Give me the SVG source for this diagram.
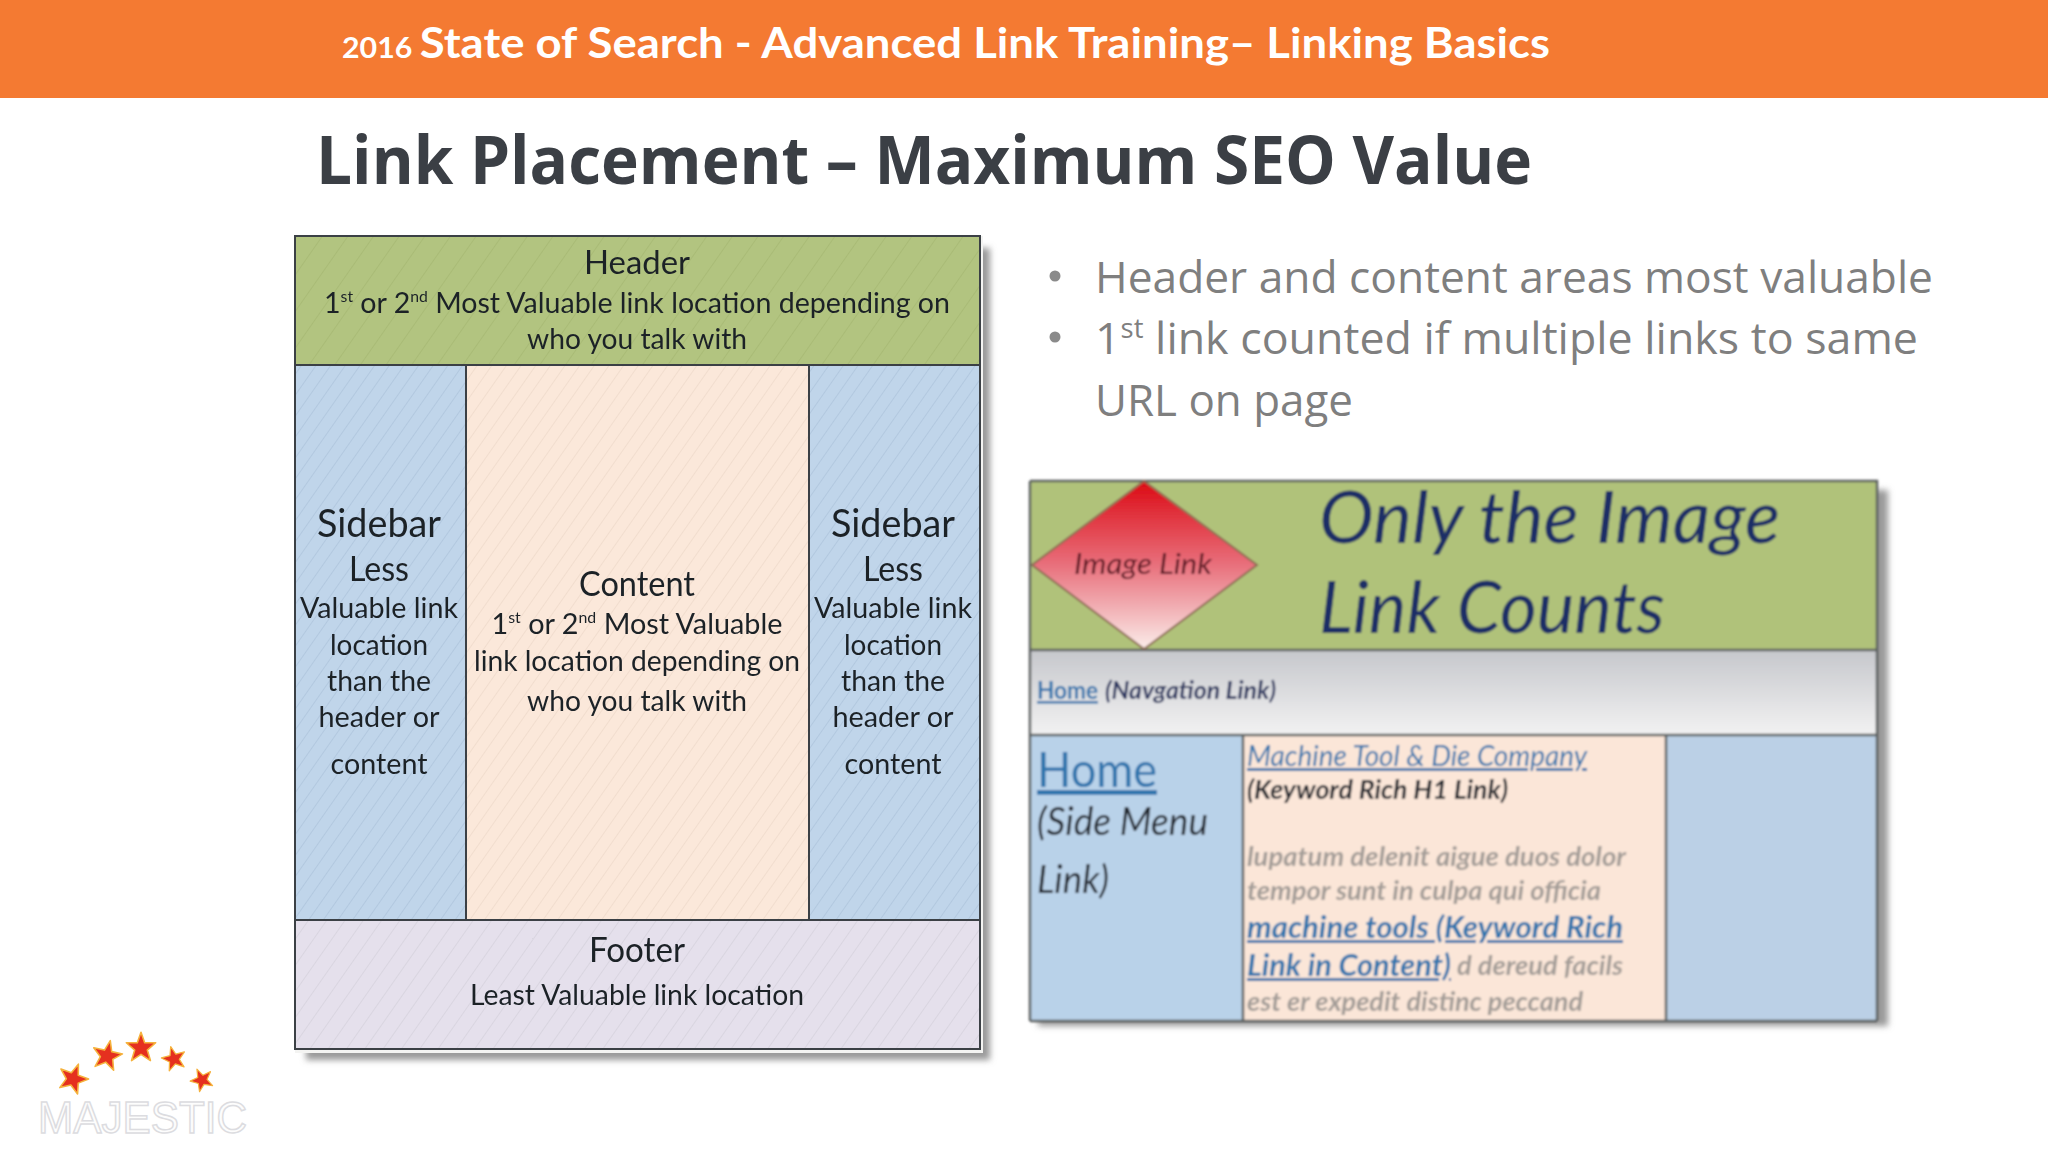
<svg xmlns="http://www.w3.org/2000/svg" width="2048" height="1152" viewBox="0 0 2048 1152">
<defs>
<style>
.ca{font-family:Lato,"Liberation Sans",sans-serif;fill:#1c2228;text-anchor:middle}
.s28{font-size:29px}.s36{font-size:39px}
.edge{stroke:#3a3f44;stroke-width:2;fill:none}
.shot{font-family:Lato,"Liberation Sans",sans-serif;font-style:italic}
.lnk{fill:#2f74ad;text-decoration:underline}
.blk{fill:#23262e}
.gry{fill:#a39c97}
.bul{font-family:"Open Sans","Liberation Sans",sans-serif;font-size:44px;fill:#7f7f7f}
.star{fill:#e5301f;stroke:#f5b23c;stroke-width:1.5;stroke-linejoin:round}
</style>
<pattern id="hG" width="21" height="21" patternUnits="userSpaceOnUse" patternTransform="rotate(35)"><rect width="21" height="21" fill="#B2C480"/><path d="M0 0V21" stroke="#A3B670" stroke-width="1.2"/></pattern>
<pattern id="hB" width="12" height="12" patternUnits="userSpaceOnUse" patternTransform="rotate(35)"><rect width="12" height="12" fill="#C0D5EA"/><path d="M0 0V12" stroke="#A9C0D8" stroke-width="1.2"/></pattern>
<pattern id="hO" width="12" height="12" patternUnits="userSpaceOnUse" patternTransform="rotate(35)"><rect width="12" height="12" fill="#FBE8DA"/><path d="M0 0V12" stroke="#EBD7C6" stroke-width="1.2"/></pattern>
<pattern id="hP" width="15" height="15" patternUnits="userSpaceOnUse" patternTransform="rotate(35)"><rect width="15" height="15" fill="#E5E0EC"/><path d="M0 0V15" stroke="#D2CED8" stroke-width="1.2"/></pattern>
<linearGradient id="gD" x1="0" y1="0" x2="0" y2="1"><stop offset="0" stop-color="#DC0A14"/><stop offset=".5" stop-color="#E8707C"/><stop offset="1" stop-color="#FBEDEA"/></linearGradient>
<linearGradient id="gN" x1="0" y1="0" x2="0" y2="1"><stop offset="0" stop-color="#C6C7CC"/><stop offset="1" stop-color="#F2F2F2"/></linearGradient>
<filter id="sh" x="-5%" y="-5%" width="110%" height="110%"><feGaussianBlur stdDeviation="3"/></filter>
<filter id="soft" x="-2%" y="-2%" width="104%" height="104%"><feGaussianBlur stdDeviation="1"/></filter>
<filter id="soft2" x="-2%" y="-2%" width="104%" height="104%"><feGaussianBlur stdDeviation="0.4"/></filter>
</defs>
<rect width="2048" height="1152" fill="#fff"/>
<g id="banner">
<rect width="2048" height="98" fill="#F47A32"/>
<text x="342" y="58" fill="#fff" font-family="Lato,'Liberation Sans',sans-serif" font-weight="700" font-size="42" textLength="1208" lengthAdjust="spacingAndGlyphs"><tspan font-size="28">2016 </tspan>State of Search - Advanced Link Training– Linking Basics</text>
</g>
<text id="title" x="316" y="184" fill="#3b3f45" font-family="'Open Sans','Liberation Sans',sans-serif" font-weight="700" font-size="66" textLength="1216" lengthAdjust="spacingAndGlyphs">Link Placement – Maximum SEO Value</text>
<g id="layout-shadow"><rect x="306" y="248" width="684" height="812" fill="#9a9a9a" filter="url(#sh)"/><rect x="295" y="236" width="688" height="817" fill="#f4f4f2"/></g>
<g filter="url(#soft2)">
<g id="header"><rect class="edge" x="295" y="236" width="685" height="129" style="fill:url(#hG)"/>
<text class="ca" font-size="33" x="637" y="274" textLength="106" lengthAdjust="spacingAndGlyphs">Header</text>
<text class="ca s28" x="637" y="313" textLength="626" lengthAdjust="spacingAndGlyphs">1<tspan font-size="16" dy="-11">st</tspan><tspan dy="11"> or 2</tspan><tspan font-size="16" dy="-11">nd</tspan><tspan dy="11"> Most Valuable link location depending on</tspan></text>
<text class="ca s28" x="637" y="349" textLength="220" lengthAdjust="spacingAndGlyphs">who you talk with</text></g>
<g id="sidebar-left"><rect class="edge" x="295" y="365" width="171" height="555" style="fill:url(#hB)"/>
<text class="ca s36" x="379" y="537" textLength="124" lengthAdjust="spacingAndGlyphs">Sidebar</text>
<text class="ca" font-size="34" x="379" y="581" textLength="60" lengthAdjust="spacingAndGlyphs">Less</text>
<text class="ca s28" x="379" y="618" textLength="158" lengthAdjust="spacingAndGlyphs">Valuable link</text>
<text class="ca s28" x="379" y="655" textLength="98" lengthAdjust="spacingAndGlyphs">location</text>
<text class="ca s28" x="379" y="691" textLength="104" lengthAdjust="spacingAndGlyphs">than the</text>
<text class="ca s28" x="379" y="727" textLength="121" lengthAdjust="spacingAndGlyphs">header or</text>
<text class="ca s28" x="379" y="774" textLength="97" lengthAdjust="spacingAndGlyphs">content</text></g>
<g id="content"><rect class="edge" x="466" y="365" width="343" height="555" style="fill:url(#hO)"/>
<text class="ca" font-size="35" x="637" y="596" textLength="116" lengthAdjust="spacingAndGlyphs">Content</text>
<text class="ca s28" x="637" y="634" textLength="291" lengthAdjust="spacingAndGlyphs">1<tspan font-size="16" dy="-11">st</tspan><tspan dy="11"> or 2</tspan><tspan font-size="16" dy="-11">nd</tspan><tspan dy="11"> Most Valuable</tspan></text>
<text class="ca s28" x="637" y="671" textLength="326" lengthAdjust="spacingAndGlyphs">link location depending on</text>
<text class="ca s28" x="637" y="711" textLength="220" lengthAdjust="spacingAndGlyphs">who you talk with</text></g>
<g id="sidebar-right"><rect class="edge" x="809" y="365" width="171" height="555" style="fill:url(#hB)"/>
<text class="ca s36" x="893" y="537" textLength="124" lengthAdjust="spacingAndGlyphs">Sidebar</text>
<text class="ca" font-size="34" x="893" y="581" textLength="60" lengthAdjust="spacingAndGlyphs">Less</text>
<text class="ca s28" x="893" y="618" textLength="158" lengthAdjust="spacingAndGlyphs">Valuable link</text>
<text class="ca s28" x="893" y="655" textLength="98" lengthAdjust="spacingAndGlyphs">location</text>
<text class="ca s28" x="893" y="691" textLength="104" lengthAdjust="spacingAndGlyphs">than the</text>
<text class="ca s28" x="893" y="727" textLength="121" lengthAdjust="spacingAndGlyphs">header or</text>
<text class="ca s28" x="893" y="774" textLength="97" lengthAdjust="spacingAndGlyphs">content</text></g>
<g id="footer"><rect class="edge" x="295" y="920" width="685" height="129" style="fill:url(#hP)"/>
<text class="ca" font-size="34" x="637" y="962" textLength="96" lengthAdjust="spacingAndGlyphs">Footer</text>
<text class="ca s28" x="637" y="1005" textLength="334" lengthAdjust="spacingAndGlyphs">Least Valuable link location</text></g>
</g>
<g id="bullets">
<circle cx="1055" cy="276" r="5.5" fill="#8a8a8a"/><circle cx="1055" cy="337" r="5.5" fill="#8a8a8a"/>
<text class="bul" x="1095" y="293" textLength="838" lengthAdjust="spacingAndGlyphs">Header and content areas most valuable</text>
<text class="bul" x="1095" y="354" textLength="823" lengthAdjust="spacingAndGlyphs">1<tspan font-size="27" dy="-16">st</tspan><tspan dy="16"> link counted if multiple links to same</tspan></text>
<text class="bul" x="1095" y="416" textLength="258" lengthAdjust="spacingAndGlyphs">URL on page</text>
</g>
<g id="example-shadow"><rect x="1038" y="490" width="850" height="536" fill="#9a9a9a" filter="url(#sh)"/></g>
<g id="example" filter="url(#soft)">
<rect x="1030" y="480" width="847" height="170" fill="#B0C27A"/>
<rect x="1030" y="650" width="847" height="85" fill="url(#gN)"/>
<rect x="1030" y="735" width="213" height="286" fill="#B9D2E9"/>
<rect x="1243" y="735" width="423" height="286" fill="#FBE6D8"/>
<rect x="1666" y="735" width="211" height="286" fill="#BBD0E6"/>
<path d="M1030 481H1877V1021M1030 481V1021M1030 650H1877M1030 735H1877M1243 735V1021M1666 735V1021M1030 1021H1877" stroke="#5c6060" stroke-width="2.5" fill="none"/>
<g id="image-link"><polygon points="1144,481 1257,565 1144,649 1032,565" fill="url(#gD)" stroke="#8d6a52" stroke-width="2"/>
<text class="shot" x="1074" y="574" font-size="28" fill="#5a1420" textLength="138" lengthAdjust="spacingAndGlyphs">Image Link</text></g>
<text class="shot" x="1319" y="543" font-size="72" fill="#1c2f66" textLength="461" lengthAdjust="spacingAndGlyphs">Only the Image</text>
<text class="shot" x="1319" y="633" font-size="72" fill="#1c2f66" textLength="346" lengthAdjust="spacingAndGlyphs">Link Counts</text>
<text class="shot lnk" x="1037" y="699" font-size="25" style="font-style:normal" font-weight="700" textLength="61" lengthAdjust="spacingAndGlyphs">Home</text>
<text class="shot" x="1105" y="699" font-size="25" font-weight="700" fill="#2a3560" textLength="171" lengthAdjust="spacingAndGlyphs">(Navgation Link)</text>
<text class="shot lnk" x="1037" y="787" font-size="48" style="font-style:normal" textLength="120" lengthAdjust="spacingAndGlyphs">Home</text>
<text class="shot blk" x="1037" y="835" font-size="38" textLength="171" lengthAdjust="spacingAndGlyphs">(Side Menu</text>
<text class="shot blk" x="1037" y="893" font-size="38" textLength="72" lengthAdjust="spacingAndGlyphs">Link)</text>
<text class="shot lnk" x="1247" y="766" font-size="29" textLength="340" lengthAdjust="spacingAndGlyphs">Machine Tool &amp; Die Company</text>
<text class="shot blk" x="1247" y="799" font-size="26" font-weight="700" textLength="261" lengthAdjust="spacingAndGlyphs">(Keyword Rich H1 Link)</text>
<text class="shot gry" x="1247" y="866" font-size="26" font-weight="700" textLength="379" lengthAdjust="spacingAndGlyphs">lupatum delenit aigue duos dolor</text>
<text class="shot gry" x="1247" y="900" font-size="26" font-weight="700" textLength="354" lengthAdjust="spacingAndGlyphs">tempor sunt in culpa qui officia</text>
<text class="shot lnk" x="1247" y="938" font-size="30" font-weight="700" textLength="376" lengthAdjust="spacingAndGlyphs">machine tools (Keyword Rich</text>
<text class="shot lnk" x="1247" y="976" font-size="30" font-weight="700" textLength="204" lengthAdjust="spacingAndGlyphs">Link in Content)</text>
<text class="shot gry" x="1457" y="975" font-size="26" font-weight="700" textLength="166" lengthAdjust="spacingAndGlyphs">d dereud facils</text>
<text class="shot gry" x="1247" y="1011" font-size="26" font-weight="700" textLength="336" lengthAdjust="spacingAndGlyphs">est er expedit distinc peccand</text>
</g>
<g id="logo">
<polygon class="star" transform="translate(73,1079) rotate(20) scale(1.05)" points="0,-15 3.5,-5 14,-5 6,2 9,12 0,6 -9,12 -6,2 -14,-5 -3.5,-5"/>
<polygon class="star" transform="translate(107,1056) rotate(12) scale(1.05)" points="0,-15 3.5,-5 14,-5 6,2 9,12 0,6 -9,12 -6,2 -14,-5 -3.5,-5"/>
<polygon class="star" transform="translate(141,1048) scale(1.05)" points="0,-15 3.5,-5 14,-5 6,2 9,12 0,6 -9,12 -6,2 -14,-5 -3.5,-5"/>
<polygon class="star" transform="translate(174,1059) rotate(-15) scale(.85)" points="0,-15 3.5,-5 14,-5 6,2 9,12 0,6 -9,12 -6,2 -14,-5 -3.5,-5"/>
<polygon class="star" transform="translate(202,1080) rotate(-25) scale(.8)" points="0,-15 3.5,-5 14,-5 6,2 9,12 0,6 -9,12 -6,2 -14,-5 -3.5,-5"/>
<text x="38" y="1133" font-family="'Liberation Sans',sans-serif" font-size="44" fill="#fdfdfd" stroke="#dcdce0" stroke-width="1.5" textLength="209" lengthAdjust="spacingAndGlyphs">MAJESTIC</text>
</g>
</svg>
